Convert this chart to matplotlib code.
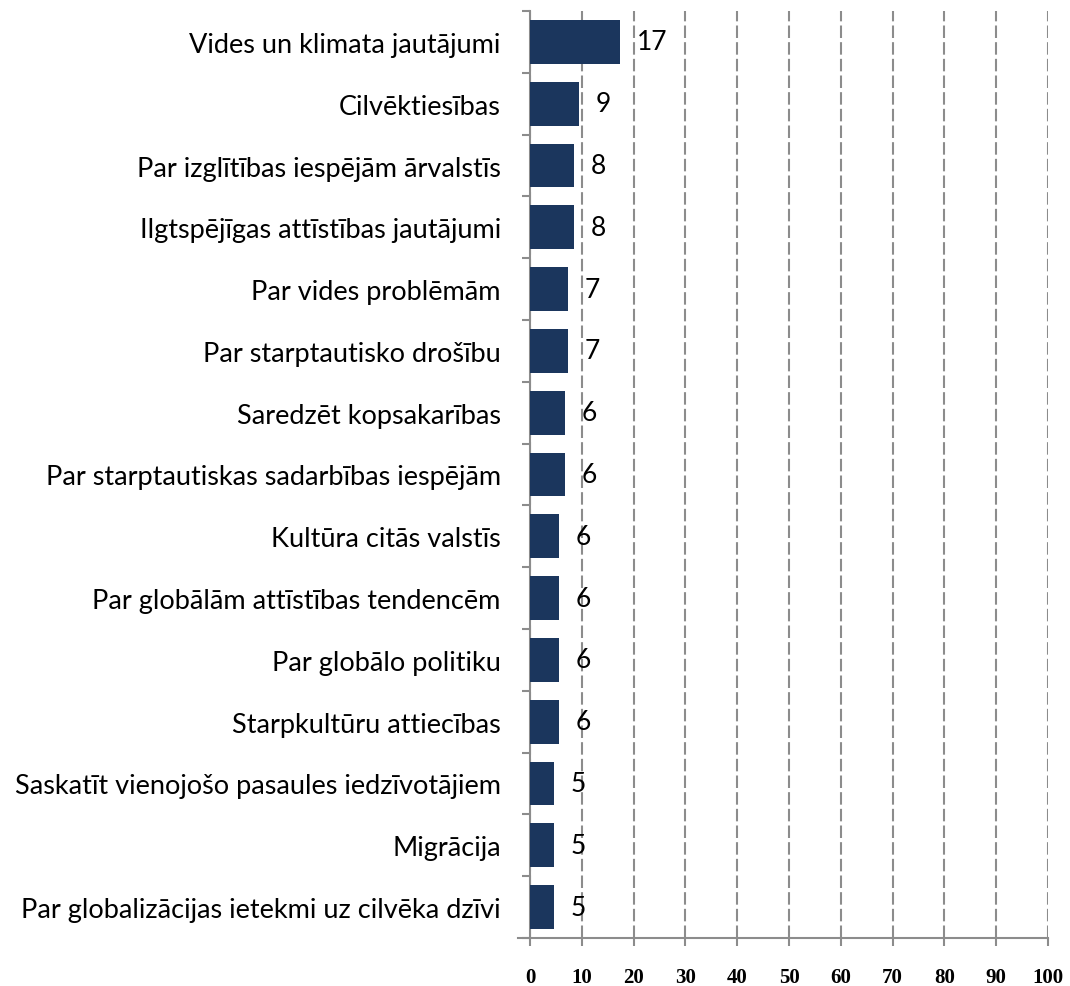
import matplotlib
matplotlib.use("Agg")
import matplotlib.pyplot as plt

categories = [
    "Vides un klimata jautājumi",
    "Cilvēktiesības",
    "Par izglītības iespējām ārvalstīs",
    "Ilgtspējīgas attīstības jautājumi",
    "Par vides problēmām",
    "Par starptautisko drošību",
    "Saredzēt kopsakarības",
    "Par starptautiskas sadarbības iespējām",
    "Kultūra citās valstīs",
    "Par globālām attīstības tendencēm",
    "Par globālo politiku",
    "Starpkultūru attiecības",
    "Saskatīt vienojošo pasaules iedzīvotājiem",
    "Migrācija",
    "Par globalizācijas ietekmi uz cilvēka dzīvi",
]
values = [17.4, 9.4, 8.5, 8.5, 7.3, 7.3, 6.7, 6.7, 5.6, 5.6, 5.6, 5.6, 4.6, 4.6, 4.6]
value_labels = ["17", "9", "8", "8", "7", "7", "6", "6", "6", "6", "6", "6", "5", "5", "5"]
x_ticks = [0, 10, 20, 30, 40, 50, 60, 70, 80, 90, 100]

fig = plt.figure(figsize=(10.70, 9.87), dpi=100)
ax = fig.add_axes([530/1070, 1 - 939/987, (1048-530)/1070, (939-12)/987])

n = len(categories)
ypos = list(range(n))
ax.barh(ypos, values, height=0.71, color="#1b365d", zorder=3)
ax.set_ylim(n - 0.5, -0.5)
ax.set_xlim(0, 100)

for y, v, lab in zip(ypos, values, value_labels):
    ax.annotate(lab, (v, y), xytext=(12, 0), textcoords="offset points",
                va="center", ha="left", fontsize=19, family="Lato",
                color="black", zorder=4)

ax.set_yticks(ypos)
ax.set_yticklabels(categories, fontsize=19.5, family="Lato")
ax.tick_params(axis="y", length=0, pad=21)
ax.set_yticks([i - 0.5 for i in range(n + 1)], minor=True)
ax.tick_params(axis="y", which="minor", length=6, width=1.5, color="#8c8c8c", direction="out")

ax.set_xticks(x_ticks)
ax.set_xticklabels([str(t) for t in x_ticks], fontsize=15, fontweight="bold", family="Liberation Serif")
ax.tick_params(axis="x", length=6, width=1.5, color="#8c8c8c", direction="out", pad=15)

ax.grid(axis="x", linestyle=(0, (6, 2)), color="#8c8c8c", linewidth=1.5, zorder=0)
for s in ["top", "right"]:
    ax.spines[s].set_visible(False)
for s in ["left", "bottom"]:
    ax.spines[s].set_color("#8c8c8c")
    ax.spines[s].set_linewidth(1.5)
ax.spines["bottom"].set_bounds(-2.3, 100)

fig.savefig("out.png", dpi=100)
